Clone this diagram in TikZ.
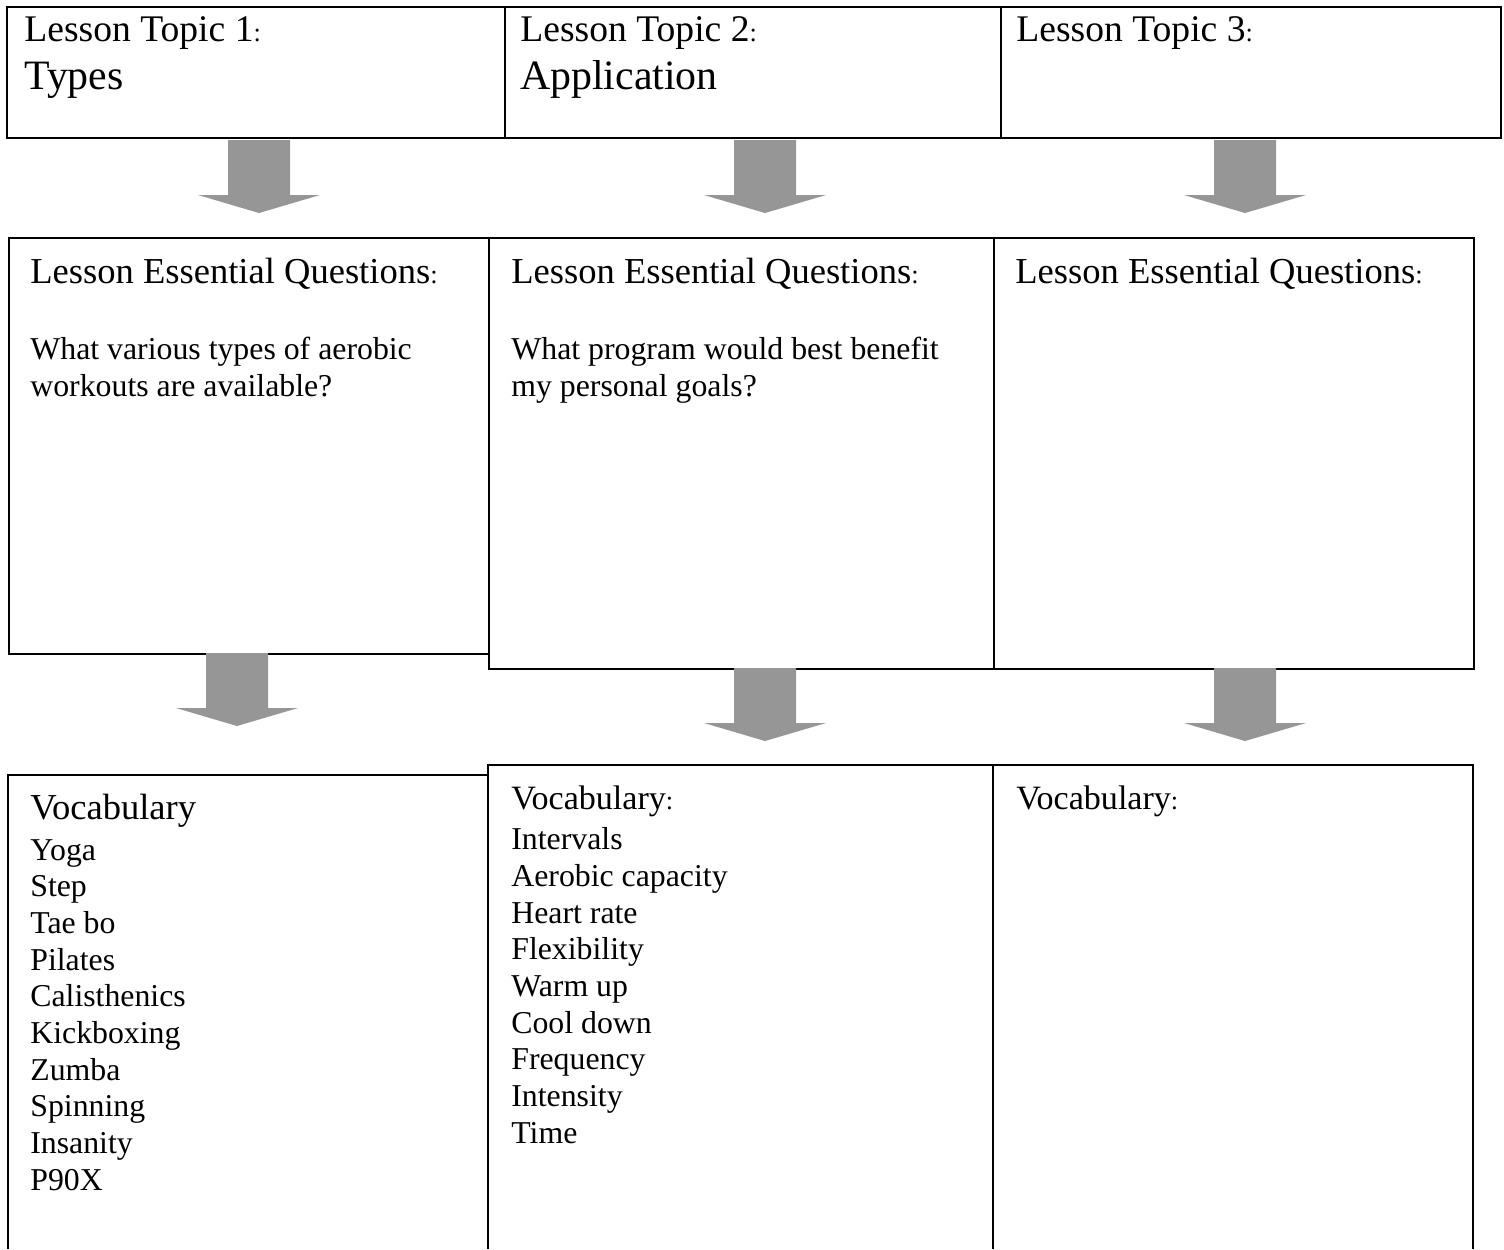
\documentclass[tikz,border=0pt]{standalone}
\usepackage{fontspec}
\setmainfont{Liberation Serif}
\usetikzlibrary{positioning}
\definecolor{arrowgray}{RGB}{150,150,150}
\newcommand{\smallcolon}{{\fontsize{15}{18}\selectfont :}}

\begin{document}
\begin{tikzpicture}[x=0.02cm,y=-0.02cm,
    box/.style={draw,line width=1.1pt,inner sep=0pt,anchor=north west},
    topic/.style={anchor=base west,inner sep=0pt,font=\fontsize{21.4}{24}\selectfont},
    title/.style={anchor=base west,inner sep=0pt,font=\fontsize{23.8}{28}\selectfont},
    head/.style={anchor=base west,inner sep=0pt,font=\fontsize{20.8}{24}\selectfont},
    body/.style={anchor=base west,inner sep=0pt,align=left,font=\fontsize{18.1}{20.86}\selectfont},
    blockarrow/.pic={\fill[arrowgray] (-31,0) -- (31,0) -- (31,55) -- (61,55) -- (0,73) -- (-61,55) -- (-31,55) -- cycle;}]
  \useasboundingbox (0,0) rectangle (1504,1249);
  \draw node[box,minimum width=9.96cm,minimum height=2.62cm] (t1) at (6,6) {};
  \draw node[box,minimum width=9.92cm,minimum height=2.62cm] (t2) at (504,6) {};
  \draw node[box,minimum width=10cm,minimum height=2.62cm] (t3) at (1000,6) {};
  \draw node[topic] (t1a) at (24,41) {Lesson Topic 1\smallcolon};
  \draw node[title] (t1b) at (24,89) {Types};
  \draw node[topic] (t2a) at (520,41) {Lesson Topic 2\smallcolon};
  \draw node[title] (t2b) at (520,89) {Application};
  \draw node[topic] (t3a) at (1016,41) {Lesson Topic 3\smallcolon};
  \pic at (259,140) {blockarrow};
  \pic at (765,140) {blockarrow};
  \pic at (1245,140) {blockarrow};
  \draw node[box,minimum width=9.6cm,minimum height=8.32cm] (q1) at (8,237) {};
  \draw node[box,minimum width=10.1cm,minimum height=8.62cm] (q2) at (488,237) {};
  \draw node[box,minimum width=9.6cm,minimum height=8.62cm] (q3) at (993,237) {};
  \draw node[head] (q1a) at (30,283) {Lesson Essential Questions\smallcolon};
  \draw node[body] (q1b) at (30,396) {What various types of aerobic\\workouts are available?};
  \draw node[head] (q2a) at (511,283) {Lesson Essential Questions\smallcolon};
  \draw node[body] (q2b) at (511,396) {What program would best benefit\\my personal goals?};
  \draw node[head] (q3a) at (1015,283) {Lesson Essential Questions\smallcolon};
  \pic at (237,653) {blockarrow};
  \pic at (765,668) {blockarrow};
  \pic at (1245,668) {blockarrow};
  \draw[line width=1.1pt] (8,1249) -- (8,775) -- (488,775);
  \draw[line width=1.1pt] (488,1249) -- (488,765) -- (1473,765) -- (1473,1249);
  \draw[line width=1.1pt] (993,765) -- (993,1249);
  \draw node[head] (v1a) at (30,819) {Vocabulary};
  \draw node[body] (v1b) at (30,1190) {Yoga\\Step\\Tae bo\\Pilates\\Calisthenics\\Kickboxing\\Zumba\\Spinning\\Insanity\\P90X};
  \draw node[head,font=\fontsize{19.4}{22}\selectfont] (v2a) at (511,809) {Vocabulary\smallcolon};
  \draw node[body] (v2b) at (511,1143) {Intervals\\Aerobic capacity\\Heart rate\\Flexibility\\Warm up\\Cool down\\Frequency\\Intensity\\Time};
  \draw node[head,font=\fontsize{19.4}{22}\selectfont] (v3a) at (1016,809) {Vocabulary\smallcolon};
\end{tikzpicture}
\end{document}
